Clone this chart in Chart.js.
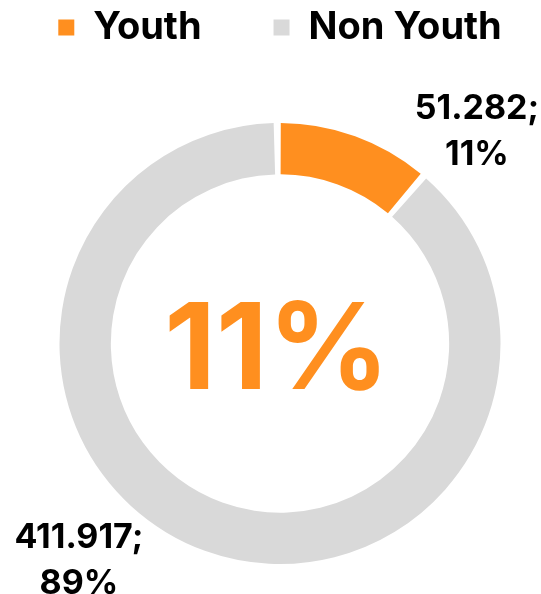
<!DOCTYPE html>
<html>
<head>
<meta charset="utf-8">
<script src="https://cdn.jsdelivr.net/npm/chart.js@4/dist/chart.umd.min.js"></script>
<style>
  html, body { margin: 0; padding: 0; background: #fff; }
  #wrap { width: 541px; height: 594px; }
</style>
</head>
<body>
<div id="wrap"><canvas id="chart" width="541" height="594"></canvas></div>
<script>
// chart data
const categories = ["Youth", "Non Youth"];
const values = [51282, 411917];
const colors = ["#FF8F1F", "#D9D9D9"];

const FONT = "Inter, 'Open Sans', sans-serif";

// 51282 -> "51.282"
function fmt(n) {
  return String(n).replace(/\B(?=(\d{3})+(?!\d))/g, ".");
}
function pct(i) {
  const total = values.reduce((a, b) => a + b, 0);
  return Math.round(values[i] / total * 100);
}

// big percentage in the middle of the ring
const centerText = {
  id: "centerText",
  afterDraw(chart) {
    const arc = chart.getDatasetMeta(0).data[0];
    const ctx = chart.ctx;
    ctx.save();
    ctx.fillStyle = colors[0];
    ctx.font = "700 120px " + FONT;
    ctx.textAlign = "center";
    ctx.textBaseline = "alphabetic";
    ctx.fillText(pct(0) + "%", arc.x - 3, arc.y + 45.5);
    ctx.restore();
  }
};

// value; percent labels outside the ring
const outsideLabels = {
  id: "outsideLabels",
  afterDraw(chart, args, opts) {
    const ctx = chart.ctx;
    const arcs = chart.getDatasetMeta(0).data;
    ctx.save();
    ctx.fillStyle = "#000";
    ctx.font = "700 34px " + FONT;
    ctx.textAlign = "center";
    ctx.textBaseline = "alphabetic";
    arcs.forEach((arc, i) => {
      const a = opts.angles[i] * Math.PI / 180;
      const d = arc.outerRadius + opts.dist[i];
      const x = arc.x + d * Math.sin(a);
      const y = arc.y - d * Math.cos(a);
      ctx.fillText(fmt(values[i]) + ";", x, y - 23);
      ctx.fillText(pct(i) + "%", x, y + 23);
    });
    ctx.restore();
  }
};

new Chart(document.getElementById("chart"), {
  type: "doughnut",
  data: {
    labels: categories,
    datasets: [{
      data: values,
      backgroundColor: colors,
      borderWidth: 0,
      spacing: 4
    }]
  },
  options: {
    responsive: false,
    animation: false,
    radius: 218.5,
    cutout: "76.5%",
    // negative padding keeps the legend on one row
    layout: { padding: { left: -15, right: -34, top: -63.5, bottom: 0 } },
    plugins: {
      tooltip: { enabled: false },
      legend: {
        position: "top",
        labels: {
          boxWidth: 16,
          boxHeight: 16,
          padding: 72,
          color: "#000",
          font: { family: FONT, size: 38, weight: "700" }
        }
      },
      // empty title / subtitle used as spacers to push the ring down and right
      title: {
        display: true,
        text: "",
        position: "top",
        weight: 500,
        font: { size: 1 },
        padding: { top: 35.3, bottom: 0 }
      },
      subtitle: {
        display: true,
        text: "",
        position: "left",
        font: { size: 1 },
        padding: { top: 32.8, bottom: 0 }
      },
      outsideLabels: {
        angles: [44.4, 221.5],
        dist: [63, 85]
      }
    }
  },
  plugins: [centerText, outsideLabels]
});
</script>
</body>
</html>
